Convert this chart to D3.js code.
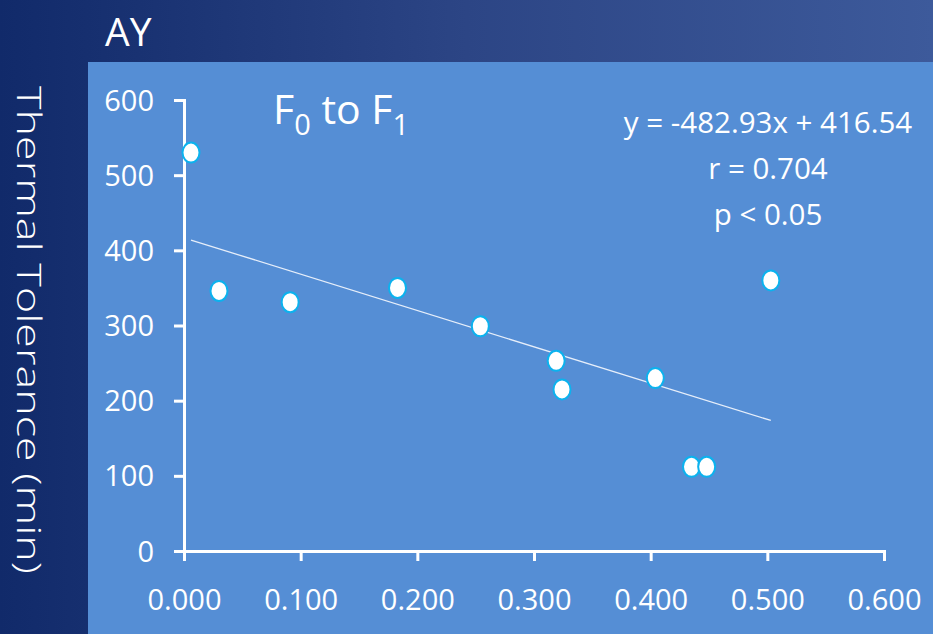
<!DOCTYPE html>
<html>
<head>
<meta charset="utf-8">
<script src="https://cdn.jsdelivr.net/npm/d3@7"></script>
<style>
  body { margin: 0; background: #1b3370; }
  svg { display: block; }
  text { font-family: "Open Sans", "Noto Sans", sans-serif; fill: #fff; }
</style>
</head>
<body>
<svg id="chart" width="933" height="634"></svg>
<script>
// values
var fst = [0.006, 0.030, 0.091, 0.183, 0.254, 0.319, 0.324, 0.404, 0.435, 0.448, 0.503];
var tolerance = [530, 346, 331, 350, 299, 253, 215, 230, 112, 112, 360];
var xTicks = [0, 0.1, 0.2, 0.3, 0.4, 0.5, 0.6];
var yTicks = [0, 100, 200, 300, 400, 500, 600];
var slope = -482.93, intercept = 416.54;
var statLines = ["y = -482.93x + 416.54", "r = 0.704", "p < 0.05"];

var svg = d3.select("#chart");
var W = 933, H = 634;

var defs = svg.append("defs");
var grad = defs.append("linearGradient").attr("id", "bg");
grad.append("stop").attr("offset", "0%").attr("stop-color", "#112a6a");
grad.append("stop").attr("offset", "50%").attr("stop-color", "#2c4585");
grad.append("stop").attr("offset", "100%").attr("stop-color", "#3d5a9b");

svg.append("rect").attr("width", W).attr("height", H).attr("fill", "url(#bg)");
svg.append("rect").attr("x", 88).attr("y", 62).attr("width", W - 88).attr("height", H - 62).attr("fill", "#558ed5");

// header
svg.append("text")
  .attr("x", 105).attr("y", 46)
  .attr("font-size", 39)
  .text("AY");

// y title, reads top to bottom
svg.append("text")
  .attr("transform", "translate(17,330) rotate(90)")
  .attr("text-anchor", "middle")
  .attr("font-size", 33)
  .attr("font-weight", 300)
  .attr("textLength", 488).attr("lengthAdjust", "spacingAndGlyphs")
  .text("Thermal Tolerance\u00a0(min)");

var x = d3.scaleLinear().domain([0, 0.6]).range([184, 884]);
var y = d3.scaleLinear().domain([0, 600]).range([551, 100]);

var xAxis = svg.append("g").attr("transform", "translate(0,551)")
  .call(d3.axisBottom(x).tickValues(xTicks).tickFormat(d3.format(".3f")).tickSize(10).tickSizeOuter(10).tickPadding(28));
var yAxis = svg.append("g").attr("transform", "translate(184,0)")
  .call(d3.axisLeft(y).tickValues(yTicks).tickSize(10).tickSizeOuter(10).tickPadding(20));

[xAxis, yAxis].forEach(function(g) {
  g.select(".domain").attr("stroke", "#fff").attr("stroke-width", 3);
  g.selectAll(".tick line").attr("stroke", "#fff").attr("stroke-width", 3);
  g.selectAll(".tick text").attr("font-size", 29).attr("fill", "#fff")
    .attr("font-family", "Open Sans, sans-serif");
});
yAxis.selectAll(".tick text").attr("dy", "0.35em");

// regression line across the data range
var ext = d3.extent(fst);
svg.append("line")
  .attr("x1", x(ext[0])).attr("y1", y(slope * ext[0] + intercept))
  .attr("x2", x(ext[1])).attr("y2", y(slope * ext[1] + intercept))
  .attr("stroke", "#e6eefa").attr("stroke-width", 1.3);

svg.append("g").selectAll("ellipse")
  .data(fst)
  .join("ellipse")
  .attr("cx", function(d) { return x(d); })
  .attr("cy", function(d, i) { return y(tolerance[i]); })
  .attr("rx", 8.5).attr("ry", 10)
  .attr("fill", "#fff").attr("stroke", "#0cb2ee").attr("stroke-width", 2);

// panel title with subscripts
var title = svg.append("text").attr("x", 273).attr("y", 124).attr("font-size", 41);
title.append("tspan").text("F");
title.append("tspan").attr("font-size", 29).attr("dy", 11).text("0");
title.append("tspan").attr("dy", -11).text(" to F");
title.append("tspan").attr("font-size", 29).attr("dy", 11).text("1");

svg.append("g").selectAll("text")
  .data(statLines)
  .join("text")
  .attr("x", 768)
  .attr("y", function(d, i) { return 133 + i * 46; })
  .attr("text-anchor", "middle")
  .attr("font-size", 29.5)
  .text(function(d) { return d; });
</script>
</body>
</html>
